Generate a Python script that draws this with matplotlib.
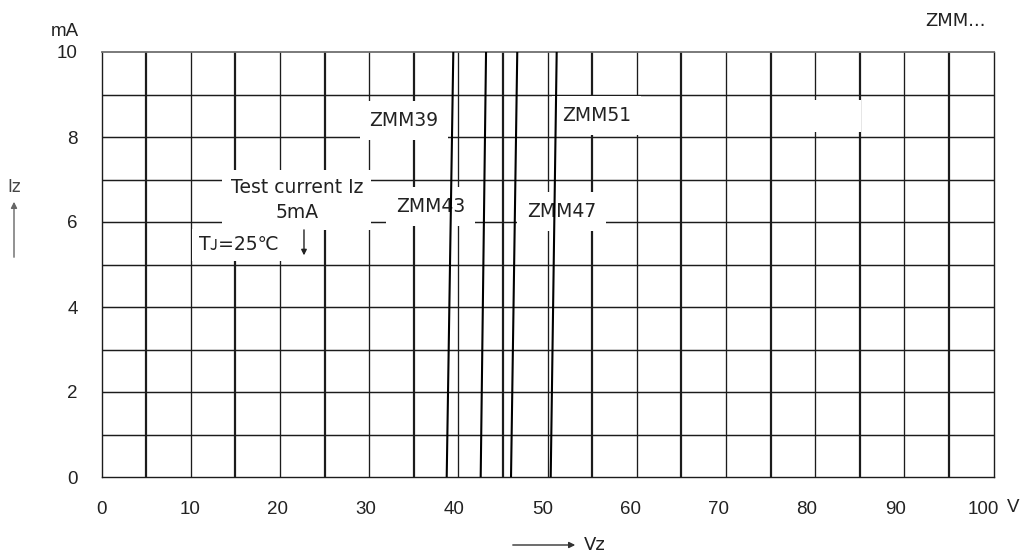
import matplotlib
matplotlib.use("Agg")
import matplotlib.pyplot as plt
from matplotlib.patches import Rectangle, FancyArrowPatch
from matplotlib.transforms import ScaledTranslation

# zener breakdown curves: (Vz at 0 mA, Vz at 10 mA)
zener_names = ["ZMM39", "ZMM43", "ZMM47", "ZMM51"]
zener_v = [[38.70, 39.44], [42.51, 43.11], [45.91, 46.61], [50.36, 51.03]]
zener_i = [0, 10]

x_ticks = [0, 10, 20, 30, 40, 50, 60, 70, 80, 90, 100]
y_ticks = [0, 2, 4, 6, 8, 10]
grid_x = list(range(5, 100, 5))
grid_y = list(range(1, 10))

# label positions (V, mA)
label_pos = {"ZMM39": (33.9, 8.39), "ZMM43": (36.9, 6.36),
             "ZMM47": (51.6, 6.25), "ZMM51": (55.5, 8.51)}

ANN_FONT = ["DejaVu Sans"]
TICK_FONT = ["Liberation Sans", "DejaVu Sans"]
INK = "#1c1c1c"
TXT = "#222222"

fig = plt.figure(figsize=(10.21, 5.56), dpi=100)
ax = fig.add_axes([101.5 / 1021, 1 - 477 / 556, 892 / 1021, 425 / 556])
ax.set_xlim(0, 100)
ax.set_ylim(0, 10)

# grid
for gx in grid_x:
   thick = (gx % 10) == 5
   ax.axvline(gx, color=INK, lw=1.6 if thick else 0.95, zorder=1)
for gy in grid_y:
   ax.axhline(gy, color=INK, lw=1.05, zorder=1)

for side in ["left", "right", "bottom"]:
   ax.spines[side].set_color(INK)
   ax.spines[side].set_linewidth(1.0)
ax.spines["top"].set_color("#707070")
ax.spines["top"].set_linewidth(1.3)

ax.set_xticks(x_ticks)
ax.set_yticks(y_ticks)
ax.tick_params(length=0, labelsize=13.5, pad=17, colors=TXT)
for lab in ax.get_yticklabels():
   lab.set_family(TICK_FONT)
# x labels in the source sit a little left of their grid line, more so to the right
for v, lab in zip(x_ticks, ax.get_xticklabels()):
   lab.set_family(TICK_FONT)
   lab.set_transform(lab.get_transform() + ScaledTranslation(-0.1 * v / 100, 0, fig.dpi_scale_trans))

# blank white patch near 80-85 V
ax.add_patch(Rectangle((79.8, 8.12), 5.4, 0.76, facecolor="white", edgecolor="none", zorder=1.5))

box = dict(facecolor="white", edgecolor="none", pad=7)

# zener curves and their labels
for name, v in zip(zener_names, zener_v):
   ax.plot(v, zener_i, color="black", lw=1.5, zorder=3, solid_capstyle="butt")
   lx, ly = label_pos[name]
   ax.text(lx, ly, name, ha="center", va="center", fontsize=13.5, family=ANN_FONT,
           color=TXT, bbox=box, zorder=2)

# test condition notes
ax.text(21.9, 6.52, "Test current Iz\n5mA", ha="center", va="center", fontsize=13.5,
        family=ANN_FONT, color=TXT, linespacing=1.4,
        bbox=dict(facecolor="white", edgecolor="none", pad=6), zorder=2)
ax.text(15.4, 5.46, "Tᴊ=25℃", ha="center", va="center", fontsize=13.5,
        family=ANN_FONT, color=TXT, bbox=dict(facecolor="white", edgecolor="none", pad=5), zorder=2)
ax.annotate("", xy=(22.7, 5.15), xytext=(22.7, 5.88),
            arrowprops=dict(arrowstyle="-|>", color=TXT, lw=1.0, mutation_scale=8),
            zorder=4)

# axis units and names (figure pixel coords)
def fx(px):
   return px / 1021

def fy(py):
   return 1 - py / 556

fig.text(fx(79), fy(31), "mA", ha="right", va="center", fontsize=13.5, family=TICK_FONT, color=TXT)
fig.text(fx(1013), fy(508), "V", ha="center", va="center", fontsize=13.5, family=TICK_FONT, color=TXT)
fig.text(fx(955), fy(21), "ZMM...", ha="center", va="center", fontsize=13, family=ANN_FONT, color=TXT)
fig.text(fx(14), fy(187), "Iz", ha="center", va="center", fontsize=12, family=ANN_FONT, color="#444444")
fig.text(fx(584), fy(545), "Vz", ha="left", va="center", fontsize=13, family=ANN_FONT, color=TXT)
fig.patches.append(FancyArrowPatch(
   (fx(14), fy(260)), (fx(14), fy(199)), transform=fig.transFigure,
   arrowstyle="-|>", mutation_scale=9, color="#666666", lw=1.0))
fig.patches.append(FancyArrowPatch(
   (fx(510), fy(545)), (fx(578), fy(545)), transform=fig.transFigure,
   arrowstyle="-|>", mutation_scale=9, color="#333333", lw=1.0))

fig.savefig("out.png", dpi=100)
